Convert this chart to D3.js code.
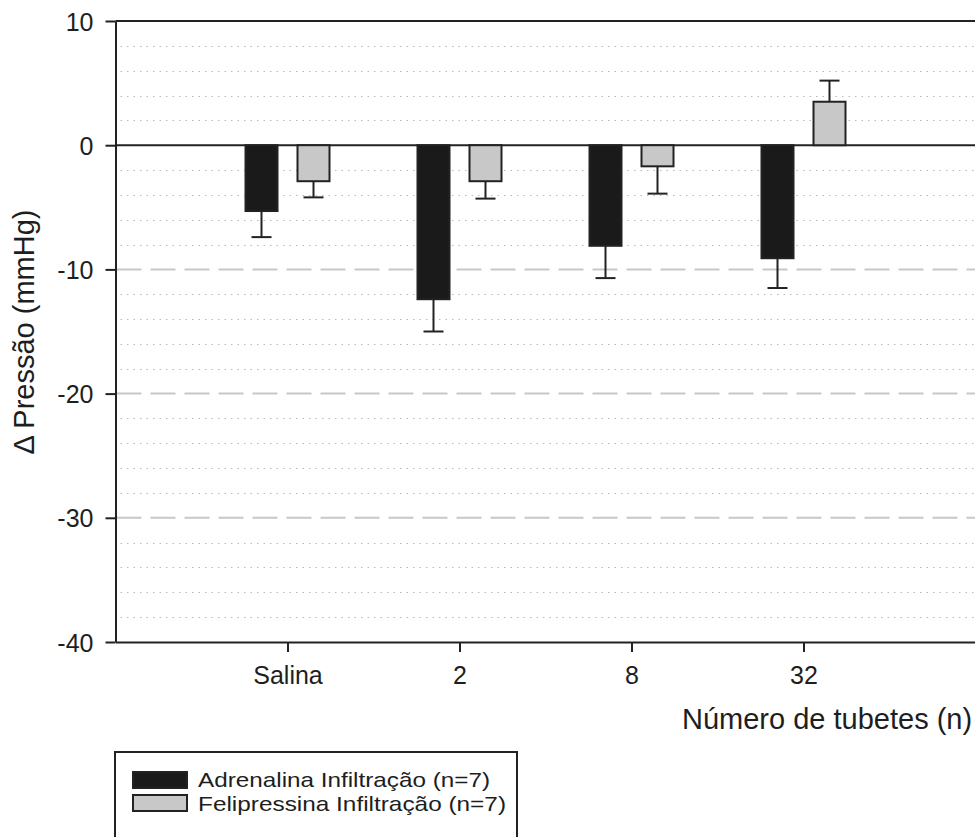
<!DOCTYPE html>
<html>
<head>
<meta charset="utf-8">
<script src="https://cdn.jsdelivr.net/npm/d3@7"></script>
<style>
  html, body { margin: 0; padding: 0; background: #fff; }
  svg { display: block; }
  text { font-family: "Liberation Sans", Arial, sans-serif; fill: #1e1e1e; }
</style>
</head>
<body>
<script>
// ---- data ----
const categories = ["Salina", "2", "8", "32"];
const adrenalina = [-5.3, -12.4, -8.1, -9.1];
const adrenalinaErr = [2.1, 2.6, 2.6, 2.4];
const felipressina = [-2.9, -2.9, -1.7, 3.5];
const felipressinaErr = [1.3, 1.4, 2.2, 1.7];
const yTicks = [-40, -30, -20, -10, 0, 10];
const yMinor = [-38,-36,-34,-32,-28,-26,-24,-22,-18,-16,-14,-12,-8,-6,-4,-2,2,4,6,8];
const yDashed = [-30, -20, -10];
const seriesNames = ["Adrenalina Infiltração (n=7)", "Felipressina Infiltração (n=7)"];
const seriesColors = ["#1a1a1a", "#c8c8c8"];
const yTitle = "Δ Pressão (mmHg)";
const xTitle = "Número de tubetes (n)";

const W = 975, H = 837;
const mLeft = 115.5, mRight = 975.5, mTop = 21, mBottom = 642;
const ink = "#222";
const font = '"Liberation Sans", Arial, sans-serif';

const svg = d3.select("body").append("svg").attr("width", W).attr("height", H);

const y = d3.scaleLinear().domain([-40, 10]).range([mBottom, mTop]);
const x = d3.scaleLinear().domain([0, categories.length + 1]).range([mLeft, mRight]);

// minor dotted grid
svg.append("g").selectAll("line").data(yMinor).join("line")
  .attr("x1", mLeft + 5).attr("x2", W)
  .attr("y1", d => Math.round(y(d)) + 0.5).attr("y2", d => Math.round(y(d)) + 0.5)
  .attr("stroke", "#b8b8b8").attr("stroke-width", 1).attr("stroke-dasharray", "1.5,5");

// dashed major grid
svg.append("g").selectAll("line").data(yDashed).join("line")
  .attr("x1", mLeft + 1).attr("x2", W)
  .attr("y1", d => y(d)).attr("y2", d => y(d))
  .attr("stroke", "#c8c8c8").attr("stroke-width", 2).attr("stroke-dasharray", "25,9");

// top frame line and zero line
svg.append("line").attr("x1", mLeft).attr("x2", W).attr("y1", y(10)).attr("y2", y(10))
  .attr("stroke", ink).attr("stroke-width", 2);
svg.append("line").attr("x1", mLeft).attr("x2", W).attr("y1", y(0)).attr("y2", y(0))
  .attr("stroke", ink).attr("stroke-width", 2);

// bars
const offsets = [-26, 26];
const barW = 32;
const series = [
  { vals: adrenalina, errs: adrenalinaErr, color: seriesColors[0], off: offsets[0] },
  { vals: felipressina, errs: felipressinaErr, color: seriesColors[1], off: offsets[1] }
];
series.forEach(s => {
  const g = svg.append("g");
  const data = s.vals.map((v, i) => ({ v, e: s.errs[i], i }));
  const errEnd = d => y(d.v < 0 ? d.v - d.e : d.v + d.e);
  g.selectAll("line.eb").data(data).join("line").attr("class", "eb")
    .attr("x1", d => x(d.i + 1) + s.off).attr("x2", d => x(d.i + 1) + s.off)
    .attr("y1", d => y(d.v)).attr("y2", errEnd)
    .attr("stroke", ink).attr("stroke-width", 2);
  g.selectAll("line.cap").data(data).join("line").attr("class", "cap")
    .attr("x1", d => x(d.i + 1) + s.off - 10).attr("x2", d => x(d.i + 1) + s.off + 10)
    .attr("y1", errEnd).attr("y2", errEnd)
    .attr("stroke", ink).attr("stroke-width", 2);
  g.selectAll("rect").data(data).join("rect")
    .attr("x", d => x(d.i + 1) + s.off - barW / 2)
    .attr("width", barW)
    .attr("y", d => Math.min(y(0), y(d.v)))
    .attr("height", d => Math.abs(y(d.v) - y(0)))
    .attr("fill", s.color).attr("stroke", ink).attr("stroke-width", 2);
});

// left axis
const gy = svg.append("g").attr("transform", `translate(${mLeft},0)`)
  .call(d3.axisLeft(y).tickValues(yTicks).tickSize(10).tickSizeOuter(0).tickFormat(d => String(d)));
gy.select(".domain").attr("stroke", ink).attr("stroke-width", 2);
gy.selectAll(".tick line").attr("stroke", ink).attr("stroke-width", 2);
gy.selectAll(".tick text")
  .attr("x", -22).attr("dy", "0.36em")
  .attr("font-size", 25).attr("text-anchor", "end")
  .style("font-family", font).style("fill", "#1e1e1e");

// bottom axis
const gx = svg.append("g").attr("transform", `translate(0,${mBottom})`)
  .call(d3.axisBottom(x).tickValues(categories.map((c, i) => i + 1)).tickSize(10).tickSizeOuter(0)
    .tickFormat(i => categories[i - 1]));
gx.select(".domain").attr("stroke", ink).attr("stroke-width", 2);
gx.selectAll(".tick line").attr("stroke", ink).attr("stroke-width", 2);
gx.selectAll(".tick text")
  .attr("y", 42).attr("dy", null)
  .attr("font-size", 25).attr("text-anchor", "middle")
  .style("font-family", font).style("fill", "#1e1e1e");

// y title
svg.append("text")
  .attr("transform", `translate(34,332) rotate(-90)`)
  .attr("text-anchor", "middle")
  .attr("font-size", 29)
  .text(yTitle);

// x title
svg.append("text")
  .attr("x", 682).attr("y", 729)
  .attr("font-size", 29)
  .text(xTitle);

// legend
const lg = svg.append("g");
lg.append("rect").attr("x", 115).attr("y", 752).attr("width", 402).attr("height", 130)
  .attr("fill", "none").attr("stroke", ink).attr("stroke-width", 2);
const legendTextLen = [292, 308];
seriesNames.forEach((name, i) => {
  lg.append("rect").attr("x", 133).attr("y", 772 + i * 23).attr("width", 54).attr("height", 16)
    .attr("fill", seriesColors[i]).attr("stroke", ink).attr("stroke-width", 2);
  lg.append("text").attr("x", 198).attr("y", 787 + i * 24)
    .attr("font-size", 21)
    .attr("textLength", legendTextLen[i]).attr("lengthAdjust", "spacingAndGlyphs")
    .text(name);
});
</script>
</body>
</html>
